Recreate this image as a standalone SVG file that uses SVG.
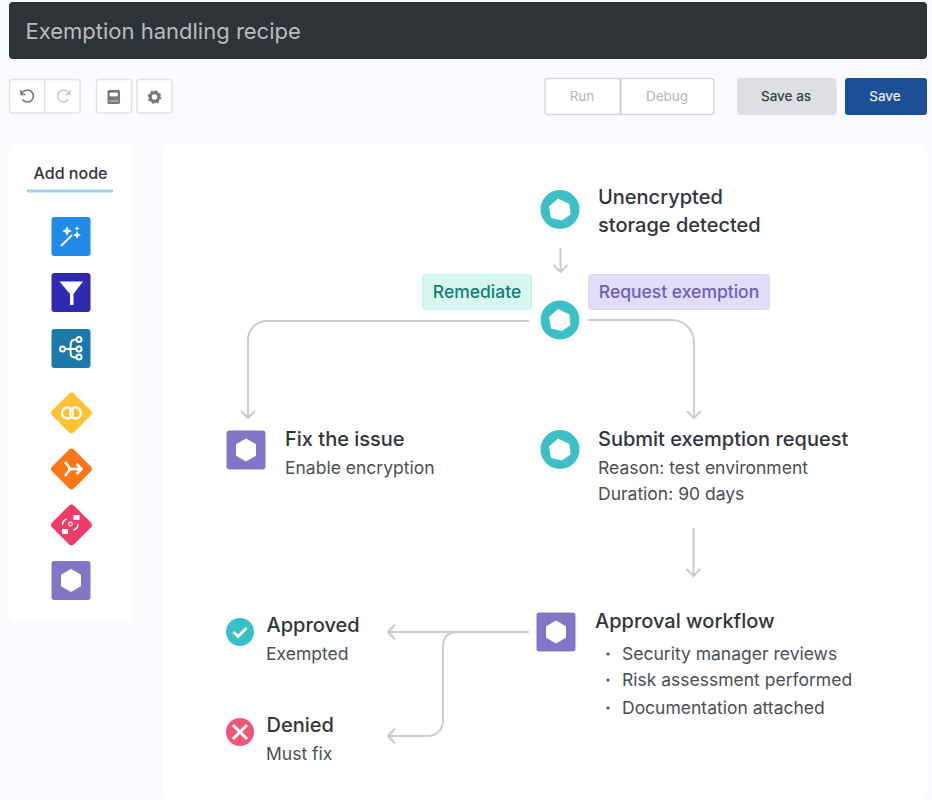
<svg xmlns="http://www.w3.org/2000/svg" width="932" height="800" viewBox="0 0 932 800">
<style>
text{font-family:"Inter","Liberation Sans",sans-serif}
.h{font-size:20px;font-weight:500;fill:#30353b}
.b{font-size:17.5px;fill:#4a4f55}
.c{fill:none;stroke:#c9ccd2;stroke-width:2}
.tb{fill:#fff;stroke:#e1e3e7;stroke-width:1.5}
.ic{fill:none;stroke:#75787d;stroke-width:1.6}
</style>
<defs>
<g id="teal"><circle r="19.500" fill="#3cc0c7"/><path d="M-2-11 9.500-5.500 10.500 5 2 11-9 8.500-11-3Z" fill="#fff"/></g>
<g id="hex"><rect x="-19.500" y="-19.500" width="39" height="39" rx="3" fill="#8076c5"/><path d="M0-11.500 10-5.700V5.700L0 11.500-10 5.700V-5.700Z" fill="#fff"/></g>
</defs>
<rect width="932" height="800" fill="#fafbfe"/>
<g id="title"><rect x="9" y="2" width="918" height="57" rx="4" fill="#2e3338"/><text x="25.500" y="39" font-size="22" fill="#b9bcbf">Exemption handling recipe</text></g>
<g id="toolbar">
<rect class="tb" x="9.500" y="79.500" width="70.500" height="33.500" rx="3"/><path d="M44.700 79.500V113" stroke="#e1e3e7" stroke-width="1.500"/>
<path class="ic" d="M22 93.500a6 6 0 1 1 .5 6M21 90v4.500h4.500"/>
<path d="M69 93.500a6 6 0 1 0-.5 6M70 90v4.500h-4.500" fill="none" stroke="#c4c6ca" stroke-width="1.500"/>
<rect class="tb" x="96.500" y="79.500" width="35" height="33.500" rx="3"/>
<rect x="107.500" y="90" width="12.500" height="14" rx="1.500" fill="#75787d"/><path d="M110 93h7.500v3H110zM109 101h9.500" fill="#fff" stroke="#fff" stroke-width=".7"/>
<rect class="tb" x="137" y="79.500" width="35" height="33.500" rx="3"/>
<circle cx="154.500" cy="97" r="4.300" fill="none" stroke="#75787d" stroke-width="3.200"/><circle cx="154.500" cy="97" r="6" fill="none" stroke="#75787d" stroke-width="1.700" stroke-dasharray="2.200 2.510"/>
<rect x="545" y="78.500" width="169" height="36" rx="3" fill="#fff" stroke="#d6d7da" stroke-width="1.500"/><path d="M620.500 78.500v36" stroke="#cfd0d3" stroke-width="2"/>
<text x="582" y="100.500" font-size="13.500" fill="#b5b7bb" text-anchor="middle">Run</text><text x="667" y="100.500" font-size="13.500" fill="#b5b7bb" text-anchor="middle">Debug</text>
<rect x="737" y="78" width="99.500" height="37" rx="3" fill="#dcdee2"/><text x="786" y="100.500" font-size="13.500" font-weight="500" fill="#3a3e44" text-anchor="middle">Save as</text>
<rect x="845" y="78" width="82" height="37" rx="3" fill="#1b5096"/><text x="885" y="100.500" font-size="13.500" font-weight="500" fill="#e8eef6" text-anchor="middle">Save</text>
</g>
<g id="palette">
<rect x="9" y="144" width="124" height="478" rx="8" fill="#fff"/>
<text x="70.500" y="179" font-size="16" font-weight="500" fill="#30353b" text-anchor="middle">Add node</text>
<rect x="27" y="189.500" width="86" height="3" fill="#a3d1f3"/>
<g id="pal-magic"><rect x="51.500" y="217" width="39" height="39" rx="3" fill="#2189e8"/><path d="M61 246 72 235" stroke="#fff" stroke-width="2"/><path d="M67 226l1.500 3.500 3.500 1.500-3.500 1.500-1.500 3.500-1.500-3.500-3.500-1.500 3.500-1.500ZM77 231l1.200 2.800 2.800 1.200-2.800 1.200-1.200 2.800-1.200-2.800-2.800-1.200 2.800-1.200ZM77 226l.8 1.700 1.700.8-1.700.8-.8 1.700-.8-1.700-1.700-.8 1.700-.8Z" fill="#fff"/></g>
<g id="pal-filter"><rect x="51.500" y="273" width="39" height="39" rx="3" fill="#3129b2"/><path d="M59.500 281.500H83L73.500 294v11h-3.500v-11Z" fill="#fff"/></g>
<g id="pal-split"><rect x="51.500" y="329" width="39" height="39" rx="3" fill="#1a7aac"/><g fill="none" stroke="#fff" stroke-width="2"><circle cx="62.500" cy="349" r="2.500"/><circle cx="79" cy="339.500" r="2.500"/><circle cx="79" cy="349" r="2.500"/><circle cx="79" cy="357" r="2.500"/><path d="M65 349h11.500M76.500 339.500c-6 0-6 3-6 9.500s0 8.500 6 8.500"/></g></g>
<g id="pal-and"><rect x="56" y="397.500" width="31" height="31" rx="4" transform="rotate(45 71.500 413)" fill="#fec233"/><circle cx="67.500" cy="413" r="5.500" fill="none" stroke="#fff" stroke-width="2.300"/><circle cx="75.500" cy="413" r="5.500" fill="none" stroke="#fff" stroke-width="2.300"/></g>
<g id="pal-merge"><rect x="56" y="453.500" width="31" height="31" rx="4" transform="rotate(45 71.500 469)" fill="#fc7616"/><path d="M65 462l5.500 7-5.500 7M68 469h13M76.500 464l5 5-5 5" fill="none" stroke="#fff" stroke-width="2.600"/></g>
<g id="pal-flow"><rect x="56" y="509.500" width="31" height="31" rx="4" transform="rotate(45 71.500 525)" fill="#f13c69"/><g fill="#fff"><rect x="73.500" y="515" width="6" height="5"/><rect x="62" y="529" width="6" height="5"/></g><circle cx="70.500" cy="524" r="1.800" fill="none" stroke="#fff" stroke-width="1.200"/><path d="M62.500 525c0-3 1-5 4.500-6M78 524c0 3-1 5-4.500 6" fill="none" stroke="#fff" stroke-width="1.500"/></g>
<g id="pal-hex"><use href="#hex" x="71" y="580.500"/></g>
</g>
<rect id="canvas" x="162" y="144" width="765" height="656" rx="8" fill="#fff"/>
<g id="connectors">
<path class="c" d="M560.500 248v23.500M553.500 265l7 7 7-7"/>
<path class="c" d="M529 321H267a19 19 0 0 0-19 19v78M241 411l7 7 7-7"/>
<path class="c" d="M588 320h84a22 22 0 0 1 22 22v76M687 411l7 7 7-7"/>
<path class="c" d="M693.500 528v48M686.500 569l7 7 7-7"/>
<path class="c" d="M529 632H388M395 624.500l-7 7.500 7 7.500"/>
<path class="c" d="M456 632a13 13 0 0 0-13 13v76a15 15 0 0 1-15 15h-40M395 728.500l-7 7.500 7 7.500"/>
</g>
<g id="node-trigger"><use href="#teal" x="560" y="209.500"/><text class="h" x="598" y="204">Unencrypted</text><text class="h" x="598" y="232">storage detected</text></g>
<g id="label-remediate"><rect x="422.500" y="274.500" width="109" height="35" rx="3" fill="#d8f6f0" stroke="#c3f0e7"/><text x="477" y="298" font-size="17.500" font-weight="500" fill="#147d75" text-anchor="middle">Remediate</text></g>
<g id="label-request"><rect x="588.500" y="274.500" width="181" height="35" rx="3" fill="#e2dcf9" stroke="#dcd5f6"/><text x="679" y="298" font-size="17.500" font-weight="500" fill="#6a5fba" text-anchor="middle">Request exemption</text></g>
<g id="node-decision"><use href="#teal" x="560" y="320"/></g>
<g id="node-fix"><use href="#hex" x="246" y="450"/><text class="h" x="285" y="446">Fix the issue</text><text class="b" x="285" y="474">Enable encryption</text></g>
<g id="node-submit"><use href="#teal" x="560" y="449.500"/><text class="h" x="598" y="446">Submit exemption request</text><text class="b" x="598" y="474">Reason: test environment</text><text class="b" x="598" y="500">Duration: 90 days</text></g>
<g id="node-approval"><use href="#hex" x="556" y="632"/><text class="h" x="595" y="628">Approval workflow</text>
<g class="b"><circle cx="608" cy="654" r="1.600" fill="#4a4f55"/><text class="b" x="622" y="660">Security manager reviews</text><circle cx="608" cy="680" r="1.600" fill="#4a4f55"/><text class="b" x="622" y="686">Risk assessment performed</text><circle cx="608" cy="708" r="1.600" fill="#4a4f55"/><text class="b" x="622" y="714">Documentation attached</text></g></g>
<g id="node-approved"><circle cx="240" cy="632" r="14" fill="#3cc0c7"/><path d="M233.500 632l4.500 4.500 8.500-8.500" fill="none" stroke="#fff" stroke-width="2.800"/><text class="h" x="266.500" y="632">Approved</text><text class="b" x="266" y="660">Exempted</text></g>
<g id="node-denied"><circle cx="240" cy="732" r="14" fill="#f2557a"/><path d="M233 725l14 14M247 725l-14 14" stroke="#fff" stroke-width="3"/><text class="h" x="266.500" y="732">Denied</text><text class="b" x="266" y="760">Must fix</text></g>
</svg>
